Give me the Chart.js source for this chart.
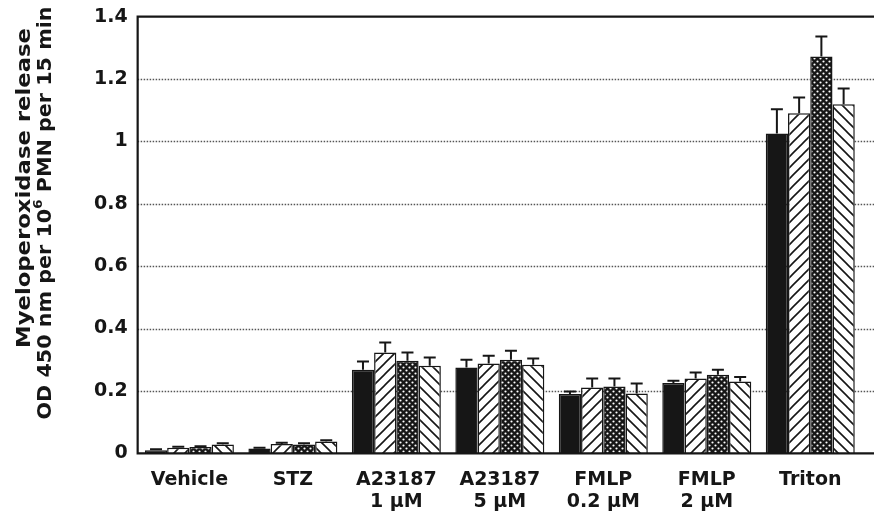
<!DOCTYPE html>
<html>
<head>
<meta charset="utf-8">
<script src="https://cdn.jsdelivr.net/npm/chart.js@4.4.0/dist/chart.umd.min.js"></script>
<style>
  html, body { margin: 0; padding: 0; background: #ffffff; }
  #wrap { width: 874px; height: 511px; }
</style>
</head>
<body>
<div id="wrap"><canvas id="chart"></canvas></div>
<script>
// categories and values
const categories = [['Vehicle'], ['STZ'], ['A23187', '1 µM'], ['A23187', '5 µM'], ['FMLP', '0.2 µM'], ['FMLP', '2 µM'], ['Triton']];
const solidValues   = [0.010, 0.015, 0.268, 0.275, 0.190, 0.225, 1.025];
const solidErr      = [0.003, 0.003, 0.026, 0.025, 0.008, 0.008, 0.078];
const hatchValues   = [0.018, 0.030, 0.323, 0.288, 0.211, 0.240, 1.090];
const hatchErr      = [0.003, 0.004, 0.032, 0.025, 0.029, 0.019, 0.051];
const crossValues   = [0.020, 0.028, 0.297, 0.300, 0.214, 0.252, 1.272];
const crossErr      = [0.003, 0.004, 0.026, 0.029, 0.026, 0.016, 0.064];
const backValues    = [0.028, 0.038, 0.281, 0.284, 0.192, 0.230, 1.119];
const backErr       = [0.004, 0.004, 0.026, 0.020, 0.032, 0.015, 0.051];
const titleLine1 = 'Myeloperoxidase release';
const titleLine2 = ['OD 450 nm per 10', '6', ' PMN per 15 min'];

const INK = '#161616';
const FONT = 'DejaVu Sans';

function makePattern(draw, size) {
    const c = document.createElement('canvas');
    c.width = size;
    c.height = size;
    const p = c.getContext('2d');
    p.fillStyle = '#ffffff';
    p.fillRect(0, 0, size, size);
    draw(p, size);
    return document.getElementById('chart').getContext('2d').createPattern(c, 'repeat');
}

// "/" hatch
const fwdHatch = makePattern((p, s) => {
    p.strokeStyle = INK;
    p.lineWidth = 1.6;
    p.beginPath();
    p.moveTo(-1, s + 1); p.lineTo(s + 1, -1);
    p.moveTo(-1, 1); p.lineTo(1, -1);
    p.moveTo(s - 1, s + 1); p.lineTo(s + 1, s - 1);
    p.stroke();
}, 11);

// "\" hatch
const backHatch = makePattern((p, s) => {
    p.strokeStyle = INK;
    p.lineWidth = 1.6;
    p.beginPath();
    p.moveTo(-1, -1); p.lineTo(s + 1, s + 1);
    p.moveTo(s - 1, -1); p.lineTo(s + 1, 1);
    p.moveTo(-1, s - 1); p.lineTo(1, s + 1);
    p.stroke();
}, 11);

// dense cross-hatch: dark with white dots
const crossHatch = makePattern((p, s) => {
    p.fillStyle = INK;
    p.fillRect(0, 0, s, s);
    p.fillStyle = '#ffffff';
    p.beginPath();
    p.arc(1.5, 1.5, 1.1, 0, Math.PI * 2);
    p.arc(4.5, 4.5, 1.1, 0, Math.PI * 2);
    p.fill();
}, 6);

const errors = [solidErr, hatchErr, crossErr, backErr];

// rotated two-line y title, stretched to the lengths seen in the figure
const yTitlePlugin = {
    id: 'yTitle',
    afterDraw(chart) {
        const ctx = chart.ctx;
        ctx.save();
        ctx.fillStyle = INK;
        ctx.textBaseline = 'middle';
        ctx.textAlign = 'left';

        // line 1
        ctx.font = 'bold 20px ' + FONT;
        let w = ctx.measureText(titleLine1).width;
        ctx.save();
        ctx.translate(25, 188);
        ctx.rotate(-Math.PI / 2);
        ctx.scale(320 / w, 1);
        ctx.fillText(titleLine1, -w / 2, 0);
        ctx.restore();

        // line 2 with superscript
        const big = 'bold 20px ' + FONT;
        const small = 'bold 13px ' + FONT;
        ctx.font = big;
        const w0 = ctx.measureText(titleLine2[0]).width;
        const w2 = ctx.measureText(titleLine2[2]).width;
        ctx.font = small;
        const w1 = ctx.measureText(titleLine2[1]).width;
        w = w0 + w1 + w2;
        ctx.save();
        ctx.translate(46, 213);
        ctx.rotate(-Math.PI / 2);
        ctx.scale(413 / w, 1);
        let x = -w / 2;
        ctx.font = big;
        ctx.fillText(titleLine2[0], x, 0);
        x += w0;
        ctx.font = small;
        ctx.fillText(titleLine2[1], x, -7);
        x += w1;
        ctx.font = big;
        ctx.fillText(titleLine2[2], x, 0);
        ctx.restore();

        ctx.restore();
    }
};

// dotted grid, frame and one-sided error bars
const framePlugin = {
    id: 'frame',
    beforeDatasetsDraw(chart) {
        const ctx = chart.ctx;
        const area = chart.chartArea;
        const y = chart.scales.y;
        ctx.save();
        ctx.strokeStyle = '#555';
        ctx.lineWidth = 1.5;
        ctx.setLineDash([1.5, 1.5]);
        y.ticks.forEach(t => {
            if (t.value <= 0 || t.value >= 1.4) return;
            const py = Math.round(y.getPixelForValue(t.value)) + 0.5;
            ctx.beginPath();
            ctx.moveTo(area.left, py);
            ctx.lineTo(chart.width, py);
            ctx.stroke();
        });
        ctx.restore();
    },
    afterDatasetsDraw(chart) {
        const ctx = chart.ctx;
        const area = chart.chartArea;
        const y = chart.scales.y;
        ctx.save();
        // error bars
        ctx.strokeStyle = INK;
        ctx.lineWidth = 2;
        chart.data.datasets.forEach((ds, di) => {
            const meta = chart.getDatasetMeta(di);
            meta.data.forEach((bar, i) => {
                const v = ds.data[i];
                const e = errors[di][i];
                const top = y.getPixelForValue(v);
                const tip = y.getPixelForValue(v + e);
                ctx.beginPath();
                ctx.moveTo(bar.x, top);
                ctx.lineTo(bar.x, tip);
                ctx.moveTo(bar.x - 6, tip);
                ctx.lineTo(bar.x + 6, tip);
                ctx.stroke();
            });
        });
        // axes and top border
        ctx.lineWidth = 2.2;
        ctx.beginPath();
        ctx.moveTo(chart.width, area.top);
        ctx.lineTo(area.left, area.top);
        ctx.lineTo(area.left, area.bottom);
        ctx.lineTo(chart.width, area.bottom);
        ctx.stroke();
        ctx.restore();
    }
};

function barSet(label, data, fill) {
    return {
        label: label,
        data: data,
        backgroundColor: fill,
        borderColor: INK,
        borderWidth: 1.5,
        borderSkipped: 'bottom'
    };
}

new Chart(document.getElementById('chart'), {
    type: 'bar',
    data: {
        labels: categories,
        datasets: [
            barSet('solid', solidValues, INK),
            barSet('hatch', hatchValues, fwdHatch),
            barSet('cross', crossValues, crossHatch),
            barSet('back', backValues, backHatch)
        ]
    },
    options: {
        responsive: true,
        maintainAspectRatio: false,
        animation: false,
        devicePixelRatio: 1,
        layout: { padding: { left: 84, right: 12, top: 0, bottom: -10 } },
        datasets: {
            bar: { categoryPercentage: 0.86, barPercentage: 1.0 }
        },
        plugins: {
            legend: { display: false },
            tooltip: { enabled: false }
        },
        scales: {
            x: {
                grid: { display: false },
                border: { display: false },
                ticks: {
                    color: INK,
                    padding: 8,
                    maxRotation: 0,
                    font: { family: FONT, size: 19, weight: 'bold', lineHeight: 1.15 }
                }
            },
            y: {
                min: 0,
                max: 1.4,
                grid: { display: false, drawTicks: false },
                border: { display: false },
                ticks: {
                    stepSize: 0.2,
                    color: INK,
                    padding: 10,
                    font: { family: FONT, size: 19, weight: 'bold', lineHeight: 0.7 },
                    callback: (value) => String(Number(value.toFixed(1)))
                }
            }
        }
    },
    plugins: [framePlugin, yTitlePlugin]
});
</script>
</body>
</html>
